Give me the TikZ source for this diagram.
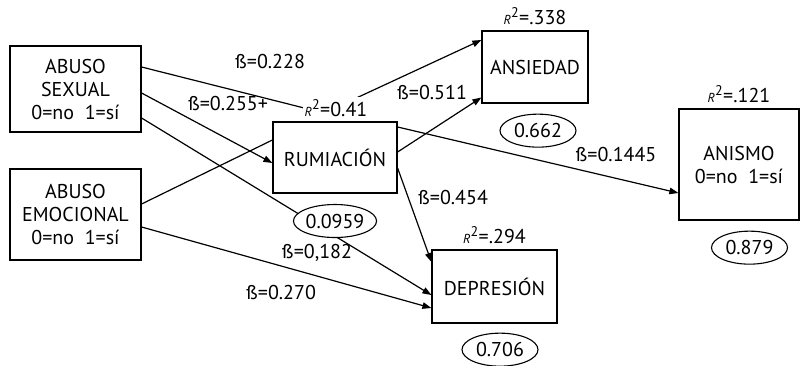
\documentclass[tikz,border=0pt]{standalone}
\usepackage{fontspec}
\setmainfont{PT Sans}
\usepackage{tikz}
\usetikzlibrary{positioning,arrows.meta,shapes.geometric}

\newcommand{\rcuad}{{\fontsize{13}{13}\selectfont\itshape R}\textsuperscript{2}}

\begin{document}
\begin{tikzpicture}[
x=1pt,y=-1pt,
->,
>={Triangle[length=9pt,width=6.5pt]},
line width=1.2pt,
font=\fontsize{20}{23}\selectfont,
caja/.style={
draw,
rectangle,
align=center,
line width=1.2pt,
inner sep=0pt
},
resid/.style={
draw,
ellipse,
minimum width=76pt,
minimum height=33pt,
inner sep=0pt,
fill=white,
line width=1.1pt
},
coef/.style={inner sep=2pt}
]

\useasboundingbox (0,0) rectangle (801,365);

\node[caja,minimum width=131pt,minimum height=86pt] (sex) at (75.5,89) {ABUSO\\SEXUAL\\0=no\ \ 1=sí};
\node[caja,minimum width=131pt,minimum height=91pt] (emo) at (75.5,214.5) {ABUSO\\EMOCIONAL\\0=no\ \ 1=sí};
\node[caja,minimum width=124pt,minimum height=71pt] (rum) at (335,157.5) {RUMIACIÓN};
\node[caja,minimum width=106pt,minimum height=72pt] (ans) at (535,67) {ANSIEDAD};
\node[caja,minimum width=120pt,minimum height=111pt] (ani) at (739,164.5) {ANISMO\\0=no\ \ 1=sí};
\node[caja,minimum width=125pt,minimum height=73pt] (dep) at (494.5,286.5) {DEPRESIÓN};

\coordinate (k) at (324,113);

\path
([yshift=22pt]sex.east) edge[-] (k)
(k) edge ([yshift=27pt]ans.west)
([yshift=-4pt]sex.east) edge ([yshift=-5.5pt]rum.west)
([yshift=-29pt]sex.east) edge ([yshift=-8.5pt]dep.west)
([yshift=10.5pt]emo.east) edge[-] ([yshift=17.5pt]rum.west)
([yshift=-12.5pt]emo.east) edge ([yshift=-21.5pt]dep.west)
([yshift=5.5pt]rum.east) edge ([yshift=-30.5pt]ans.west)
([yshift=30.5pt]rum.east) edge ([yshift=-28.5pt]ani.west)
([yshift=-10.5pt]rum.east) edge ([yshift=24.5pt]dep.west);

% R2 and residuals
\node[coef,fill=white] (r2rum) at (336,108) {\rcuad=0.41};
\node[resid] (erum) at (335,221) {0.0959};
\node[coef,above=3pt of ans] (r2ans) {\rcuad=.338};
\node[coef,above=3pt of ani] (r2ani) {\rcuad=.121};
\node[coef,above=3pt of dep] (r2dep) {\rcuad=.294};
\node[resid,below=10pt of ans,xshift=3pt] (eans) {0.662};
\node[resid,below=10pt of ani,xshift=10.5pt] (eani) {0.879};
\node[resid,below=9pt of dep,xshift=5.5pt] (edep) {0.706};

% coeficientes
\node[coef] (b228) at (270,61) {ß=0.228};
\node[coef] (b255) at (228,103) {ß=0.255+};
\node[coef] (b511) at (432,92) {ß=0.511};
\node[coef] (b1445) at (616,154) {ß=0.1445};
\node[coef] (b454) at (453,197) {ß=0.454};
\node[coef] (b182) at (317,253) {ß=0,182};
\node[coef] (b270) at (281,292) {ß=0.270};

\end{tikzpicture}
\end{document}
